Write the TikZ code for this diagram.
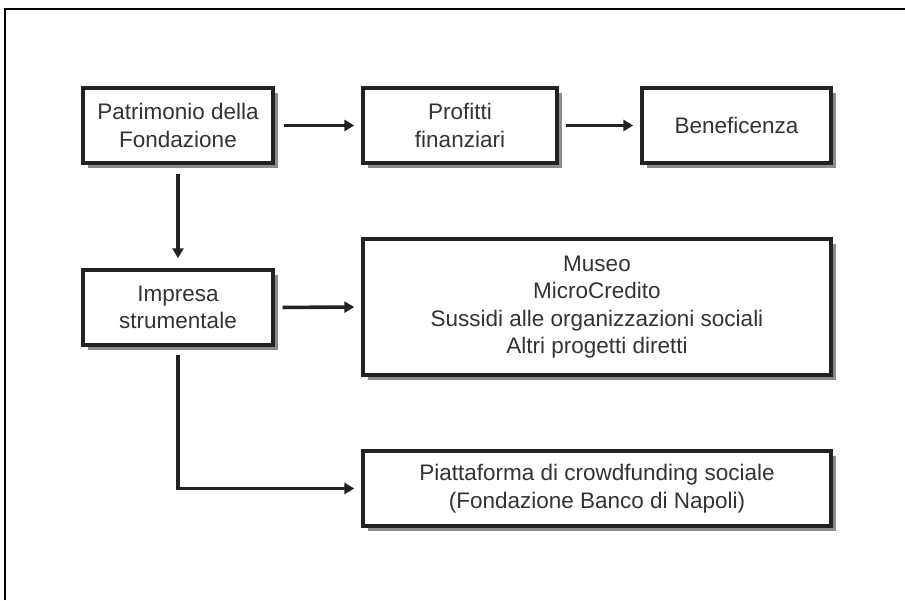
\documentclass[tikz,border=0pt]{standalone}
\usepackage{fontspec}
\setmainfont{Liberation Sans}
\usetikzlibrary{arrows.meta,shadows}
\definecolor{txt}{HTML}{333333}
\definecolor{edge}{HTML}{222222}
\definecolor{shade}{HTML}{8C8C8C}
\begin{document}
\begin{tikzpicture}[x=1pt,y=-1pt,
  box/.style={draw=edge,line width=3.4pt,fill=white,inner sep=0pt,align=center,
    text=txt,font=\fontsize{22.5}{27.5}\selectfont,
    drop shadow={shadow xshift=4.5pt,shadow yshift=-4.5pt,fill=shade,opacity=1}},
  conn/.style={draw=edge,line width=3.6pt,-{Triangle[length=10pt,width=11pt]}}]
\useasboundingbox (0,0) rectangle (905,600);
\draw[line width=2.4pt] (5,600) -- (5,9) -- (905,9);
\node[box,minimum width=190pt,minimum height=75pt] (b1) at (178,125.5) {Patrimonio della\\Fondazione};
\node[box,minimum width=194pt,minimum height=75pt] (b2) at (460,125.5) {Profitti\\finanziari};
\node[box,minimum width=189pt,minimum height=75pt] (b3) at (736.5,125.5) {Beneficenza};
\node[box,minimum width=190pt,minimum height=75pt] (b4) at (178,307.5) {Impresa\\strumentale};
\node[box,minimum width=468pt,minimum height=136pt] (b5) at (597,307) {Museo\\MicroCredito\\Sussidi alle organizzazioni sociali\\Altri progetti diretti};
\node[box,minimum width=468pt,minimum height=75pt] (b6) at (597,488.5) {Piattaforma di crowdfunding sociale\\(Fondazione Banco di Napoli)};
\draw[conn,shorten <=9pt,shorten >=7pt] (b1.east) -- (b2.west);
\draw[conn,shorten <=7pt,shorten >=7pt] (b2.east) -- (b3.west);
\draw[conn,shorten <=9pt,shorten >=10pt] (b1.south) -- (b4.north);
\draw[conn,shorten <=8pt,shorten >=7pt] (b4.east) -- (b5.west);
\draw[conn,shorten <=8pt,shorten >=7pt] (b4.south) |- (b6.west);
\end{tikzpicture}
\end{document}
